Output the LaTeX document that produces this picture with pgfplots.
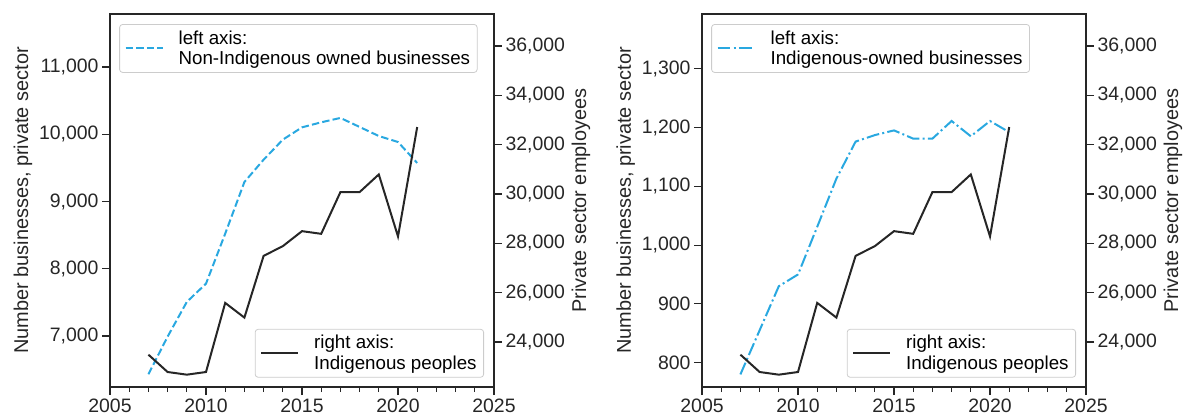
\documentclass[border=0pt]{standalone}
\usepackage{fontspec}
\setmainfont{Liberation Sans}
\usepackage{pgfplots}
\pgfplotsset{compat=1.18}
\definecolor{lblue}{RGB}{41,168,224}
\definecolor{dk}{RGB}{38,38,38}

\pgfplotstableread{
year emp
2007 23486
2008 22782
2009 22674
2010 22782
2011 25583
2012 24988
2013 27491
2014 27884
2015 28493
2016 28385
2017 30076
2018 30076
2019 30793
2020 28277
2021 32714
}\employees

\pgfplotstableread{
year nonind
2007 6430
2008 6990
2009 7506
2010 7778
2011 8522
2012 9290
2013 9622
2014 9920
2015 10103
2016 10178
2017 10243
2018 10109
2019 9974
2020 9885
2021 9573
}\nonind

\pgfplotstableread{
year ind
2007 780
2008 855
2009 930
2010 950
2011 1031
2012 1113
2013 1176
2014 1187
2015 1195
2016 1181
2017 1181
2018 1211
2019 1185
2020 1211
2021 1192
}\ind

\pgfplotsset{
  base/.style={
    scale only axis, width=384bp, height=373bp,
    xmin=2005, xmax=2025,
    scaled ticks=false,
    font=\fontsize{19.5}{23}\selectfont,
    ticklabel style={font=\fontsize{19.5}{23}\selectfont, text=dk},
    label style={font=\fontsize{20}{24}\selectfont, text=dk},
    /pgf/number format/assume math mode=true,
    /pgf/number format/.cd, 1000 sep={,}, /pgfplots/.cd,
    tick align=outside,
    major tick length=8bp, minor tick length=5bp,
    axis line style={dk, line width=1.25bp},
    every tick/.style={dk, line width=1.1bp},
    legend cell align=left,
    legend style={cells={align=left}, draw=black!20, rounded corners=3bp,
      fill=white, fill opacity=0.8, text opacity=1, line width=0.8bp,
      font=\fontsize{18.8}{21}\selectfont, inner xsep=5bp, inner ysep=4bp,
      /tikz/every odd column/.append style={column sep=13bp}},
    legend image code/.code={\draw[##1] (0bp,0bp) -- (37bp,0bp);},
  },
  leftax/.style={base,
    xtick={2005,2010,2015,2020,2025}, minor x tick num=4,
    xtick pos=bottom, ytick pos=left,
    xticklabel style={/pgf/number format/1000 sep={}},
    ylabel={Number businesses, private sector},
    legend style={at={(0.024,0.973)}, anchor=north west},
  },
  rightax/.style={base,
    axis x line=none, axis y line*=right,
    ymin=22174, ymax=37298,
    ytick={24000,26000,...,36000},
    ylabel={Private sector employees},
    legend style={at={(0.974,0.025)}, anchor=south east},
  },
}

\begin{document}
\begin{tikzpicture}
\path[use as bounding box] (0,0) rectangle (1186bp,417bp);

% left panel
\begin{axis}[leftax, at={(110bp,30bp)}, anchor=south west,
  ymin=6241, ymax=11789, ytick={7000,8000,...,11000}]
\addplot[lblue, line width=2bp, dash pattern=on 7.4bp off 3.2bp] table[x=year,y=nonind] {\nonind};
\addlegendentry{left axis:\\Non-Indigenous owned businesses}
\end{axis}
\begin{axis}[rightax, at={(110bp,30bp)}, anchor=south west]
\addplot[dk, line width=2bp] table[x=year,y=emp] {\employees};
\addlegendentry{right axis:\\Indigenous peoples}
\end{axis}

% right panel
\begin{axis}[leftax, at={(702bp,30bp)}, anchor=south west,
  ymin=758.6, ymax=1393, ytick={800,900,...,1300}]
\addplot[lblue, line width=2bp, dash pattern=on 12.8bp off 3.2bp on 2bp off 3.2bp] table[x=year,y=ind] {\ind};
\addlegendentry{left axis:\\Indigenous-owned businesses}
\end{axis}
\begin{axis}[rightax, at={(702bp,30bp)}, anchor=south west]
\addplot[dk, line width=2bp] table[x=year,y=emp] {\employees};
\addlegendentry{right axis:\\Indigenous peoples}
\end{axis}
\end{tikzpicture}
\end{document}
